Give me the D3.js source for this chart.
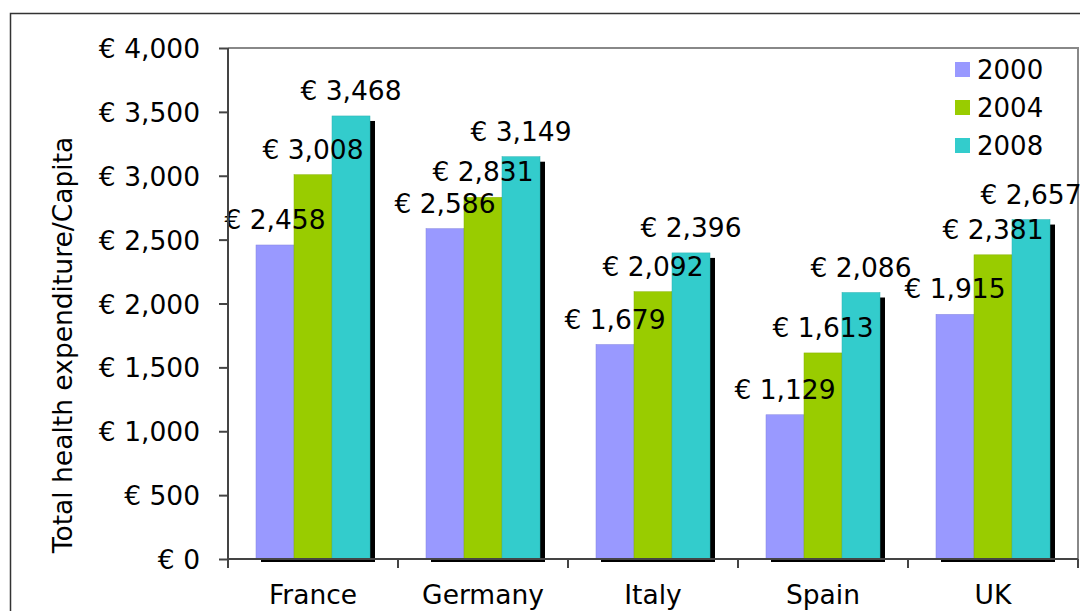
<!DOCTYPE html>
<html>
<head>
<meta charset="utf-8">
<script src="https://cdn.jsdelivr.net/npm/d3@7"></script>
<style>
  body { margin: 0; background: #fff; }
  text { font-family: "DejaVu Sans", Verdana, sans-serif; fill: #000; }
</style>
</head>
<body>
<svg id="chart" width="1080" height="611"></svg>
<script>
// chart data
const countries = ["France", "Germany", "Italy", "Spain", "UK"];
const years = ["2000", "2004", "2008"];
const values2000 = [2458, 2586, 1679, 1129, 1915];
const values2004 = [3008, 2831, 2092, 1613, 2381];
const values2008 = [3468, 3149, 2396, 2086, 2657];
const yTicks = [0, 500, 1000, 1500, 2000, 2500, 3000, 3500, 4000];
const colors = ["#9999ff", "#99cc00", "#33cccc"];

const series = [values2000, values2004, values2008];
const svg = d3.select("#chart");

const plot = { left: 228, right: 1078, top: 48, bottom: 559 };

const x0 = d3.scaleBand().domain(countries).range([plot.left, plot.right]);
const x1 = d3.scaleBand().domain(years).range([0, 114]);
const y = d3.scaleLinear().domain([0, 4000]).range([plot.bottom, plot.top]);

const fmt = v => "€ " + d3.format(",")(v);

// outer frame
svg.append("rect")
  .attr("x", 10.5).attr("y", 13.5)
  .attr("width", 1080).attr("height", 611)
  .attr("fill", "none").attr("stroke", "#333").attr("stroke-width", 1.5);

// plot area border (top and right)
svg.append("path")
  .attr("d", `M${plot.left},${plot.top}H${plot.right}V${plot.bottom}`)
  .attr("fill", "none").attr("stroke", "#888").attr("stroke-width", 2);

const groupOffset = (x0.bandwidth() - 114) / 2;

// build rows of bars
const bars = [];
countries.forEach((c, i) => {
  years.forEach((yr, j) => {
    bars.push({ country: c, year: yr, value: series[j][i], color: colors[j] });
  });
});

const barX = d => x0(d.country) + groupOffset + x1(d.year);

// shadows first
svg.append("g").selectAll("rect")
  .data(bars)
  .join("rect")
  .attr("x", d => barX(d) + 5)
  .attr("y", d => y(d.value) + 5)
  .attr("width", x1.bandwidth())
  .attr("height", d => plot.bottom + 3 - y(d.value) - 5)
  .attr("fill", "#000");

svg.append("g").selectAll("rect")
  .data(bars)
  .join("rect")
  .attr("x", barX)
  .attr("y", d => y(d.value))
  .attr("width", x1.bandwidth())
  .attr("height", d => plot.bottom - y(d.value))
  .attr("fill", d => d.color)
  .attr("stroke", d => d3.color(d.color).darker(0.4))
  .attr("stroke-width", 0.5);

// value labels
svg.append("g").selectAll("text")
  .data(bars)
  .join("text")
  .attr("x", d => barX(d) + x1.bandwidth() / 2)
  .attr("y", d => y(d.value) - 16)
  .attr("text-anchor", "middle")
  .attr("font-size", 26.5)
  .text(d => fmt(d.value));

// y axis
const yAxis = svg.append("g")
  .attr("transform", `translate(${plot.left},0)`)
  .call(d3.axisLeft(y).tickValues(yTicks).tickSize(9).tickPadding(19).tickFormat(fmt));
yAxis.selectAll("path, line").attr("stroke", "#444").attr("stroke-width", 2);
yAxis.select(".domain").attr("d", `M0,${plot.top}V${plot.bottom}`);
yAxis.selectAll("text").attr("font-size", 26.5).attr("font-family", "DejaVu Sans, Verdana, sans-serif").attr("dy", "0.36em");

// x axis
const xAxis = svg.append("g")
  .attr("transform", `translate(0,${plot.bottom})`);
xAxis.append("line")
  .attr("x1", plot.left).attr("x2", plot.right)
  .attr("stroke", "#444").attr("stroke-width", 2);
xAxis.selectAll("line.tick")
  .data(countries.map(c => x0(c)).concat([plot.right]))
  .join("line")
  .attr("class", "tick")
  .attr("x1", d => d).attr("x2", d => d)
  .attr("y1", 0).attr("y2", 9)
  .attr("stroke", "#444").attr("stroke-width", 2);
xAxis.selectAll("text")
  .data(countries)
  .join("text")
  .attr("x", d => x0(d) + x0.bandwidth() / 2)
  .attr("y", 45)
  .attr("text-anchor", "middle")
  .attr("font-size", 26.5)
  .text(d => d);

// y axis title
svg.append("text")
  .attr("transform", `translate(72,345) rotate(-90)`)
  .attr("text-anchor", "middle")
  .attr("font-size", 26.5)
  .text("Total health expenditure/Capita");

// legend
const legend = svg.append("g").attr("transform", "translate(955,62)");
years.forEach((yr, j) => {
  const row = legend.append("g").attr("transform", `translate(0,${j * 38})`);
  row.append("rect").attr("width", 15).attr("height", 15).attr("fill", colors[j]);
  row.append("text").attr("x", 22).attr("y", 17).attr("font-size", 26).text(yr);
});
</script>
</body>
</html>
